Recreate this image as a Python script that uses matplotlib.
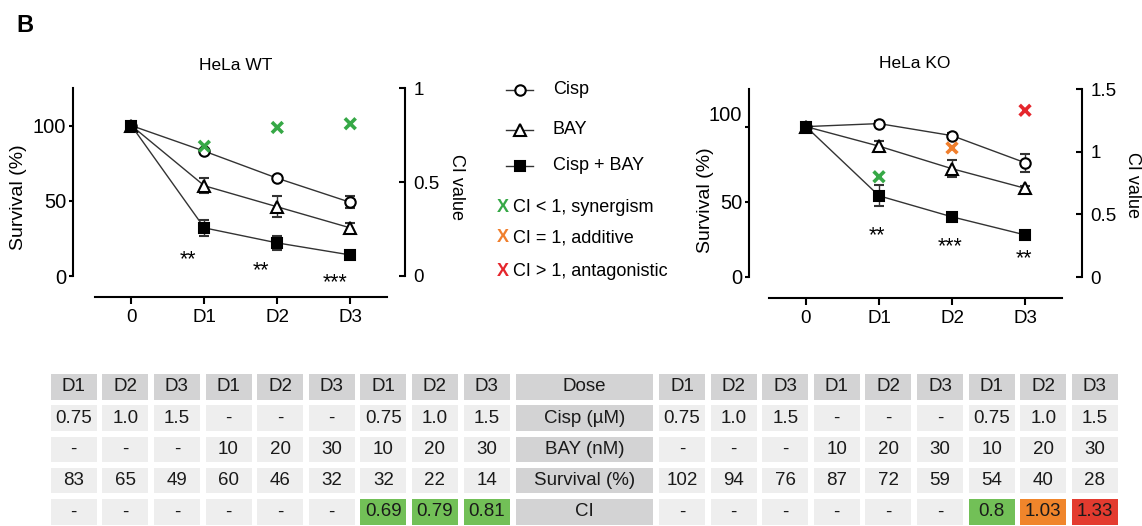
import matplotlib
matplotlib.use('Agg')
import matplotlib.pyplot as plt
from matplotlib.patches import Rectangle
from matplotlib.transforms import ScaledTranslation

plt.rcParams['font.family'] = ['Liberation Sans', 'DejaVu Sans']

doses = ['0', 'D1', 'D2', 'D3']

# HeLa WT survival (%) and error bars
wt_cisp = [100, 83, 65, 49]
wt_cisp_err = [0, 1.5, 1.5, 4]
wt_bay = [100, 60, 46, 32]
wt_bay_err = [0, 5, 7, 3.5]
wt_combo = [100, 32, 22, 14]
wt_combo_err = [0, 5.5, 4.5, 2.5]
wt_ci = [0.69, 0.79, 0.81]
wt_stars = ['**', '**', '***']
wt_star_x = [0.78, 1.78, 2.79]
wt_star_y = [7, 0, -8]

# HeLa KO
ko_cisp = [100, 102, 94, 76]
ko_cisp_err = [0, 1.5, 1.5, 6]
ko_bay = [100, 87, 72, 59]
ko_bay_err = [0, 3.5, 5.5, 1.5]
ko_combo = [100, 54, 40, 28]
ko_combo_err = [0, 7, 1.5, 1.5]
ko_ci = [0.8, 1.03, 1.33]
ko_stars = ['**', '***', '**']
ko_star_x = [0.97, 1.97, 2.98]
ko_star_y = [24, 16.5, 8.5]

# table
dose_names = ['D1', 'D2', 'D3']
cisp_conc = ['0.75', '1.0', '1.5']
bay_conc = ['10', '20', '30']
row_labels = ['Dose', 'Cisp (µM)', 'BAY (nM)', 'Survival (%)', 'CI']

GREEN = '#36a846'
ORANGE = '#f07f2d'
RED = '#e5262c'
CELL_GREEN = '#72c057'
CELL_ORANGE = '#f0852b'
CELL_RED = '#e33b2f'
LINE = '#333333'

W, H = 1142, 526


def ci_color(v, cell=False):
    if v < 0.97:
        return CELL_GREEN if cell else GREEN
    if v > 1.05:
        return CELL_RED if cell else RED
    return CELL_ORANGE if cell else ORANGE


def px_rect(left, top, right, bottom):
    return [left / W, 1 - bottom / H, (right - left) / W, (bottom - top) / H]


def draw_panel(fig, rect, xlim, series, ci, ci_top, ci_ticks, stars, star_x, star_y):
    ax = fig.add_axes(rect)
    x = list(range(len(doses)))
    styles = [('o', 'white', 7.5), ('^', 'white', 8), ('s', 'black', 6.5)]
    for (vals, errs), (mk, mfc, ms) in zip(series, styles):
        ax.errorbar(x, vals, yerr=errs, color=LINE, lw=1, ecolor=LINE,
                    elinewidth=1, capsize=3.5, capthick=1, marker=mk,
                    mfc=mfc, mec='black', ms=ms, mew=1.5, zorder=3)
    for sx, sy, s in zip(star_x, star_y, stars):
        ax.text(sx, sy, s, ha='center', va='baseline', fontsize=15.5)

    ax.set_xlim(*xlim)
    ax.set_ylim(0, 125)
    ax.set_xticks(x)
    ax.set_xticklabels(doses)
    ax.set_yticks([0, 50, 100])
    for side in ['top', 'right']:
        ax.spines[side].set_visible(False)
    ax.spines['left'].set_bounds(0, 125)
    ax.spines['bottom'].set_bounds(-0.5, 3.5)
    ax.spines['bottom'].set_position(('outward', 15))
    for side in ['left', 'bottom']:
        ax.spines[side].set_linewidth(1.5)
    ax.tick_params(axis='y', direction='out', length=3, width=1.5, pad=2, labelsize=14.5)
    ax.tick_params(axis='x', direction='out', length=5, width=1.5, pad=4, labelsize=13.5)
    ax.patch.set_visible(False)

    ax2 = ax.twinx()
    ax2.set_ylim(0, ci_top)
    ax2.set_yticks(ci_ticks)
    ax2.set_yticklabels([f'{t:g}' for t in ci_ticks])
    for side in ['top', 'left', 'bottom']:
        ax2.spines[side].set_visible(False)
    ax2.spines['right'].set_linewidth(1.5)
    ax2.tick_params(axis='y', direction='in', length=4, width=1.5, pad=6, labelsize=13.5)
    ax2.scatter(x[1:], ci, marker='x', s=60, linewidths=2.6,
                c=[ci_color(v) for v in ci], zorder=4, clip_on=False)
    return ax, ax2


fig = plt.figure(figsize=(W / 100, H / 100), dpi=100)

# panel letter
fig.text(25 / W, 1 - 25 / H, 'B', fontsize=17, fontweight='bold', ha='center', va='center')

# WT panel
draw_panel(fig, px_rect(73, 88, 405, 276), (-0.8, 3.75),
           [(wt_cisp, wt_cisp_err), (wt_bay, wt_bay_err), (wt_combo, wt_combo_err)],
           wt_ci, 1, [0, 0.5, 1], wt_stars, wt_star_x, wt_star_y)
fig.text(236 / W, 1 - 65 / H, 'HeLa WT', fontsize=12.5, ha='center', va='center')
fig.text(19 / W, 1 - 197 / H, 'Survival (%)', fontsize=14, rotation=90, ha='center', va='center')
fig.text(457 / W, 1 - 187 / H, 'CI value', fontsize=13, rotation=270, ha='center', va='center')

# KO panel
ko_ax, _ = draw_panel(fig, px_rect(749, 89, 1082, 277), (-0.78, 3.78),
                      [(ko_cisp, ko_cisp_err), (ko_bay, ko_bay_err), (ko_combo, ko_combo_err)],
                      ko_ci, 1.5, [0, 0.5, 1, 1.5], ko_stars, ko_star_x, ko_star_y)
# the "100" label sits a bit high in the original
lbl = ko_ax.get_yticklabels()[2]
lbl.set_transform(lbl.get_transform() + ScaledTranslation(0, 0.13, fig.dpi_scale_trans))
fig.text(915 / W, 1 - 63 / H, 'HeLa KO', fontsize=12.5, ha='center', va='center')
fig.text(705 / W, 1 - 200 / H, 'Survival (%)', fontsize=14, rotation=90, ha='center', va='center')
fig.text(1132 / W, 1 - 185 / H, 'CI value', fontsize=13, rotation=270, ha='center', va='center')

# overlay in pixel coordinates for legend and table
ov = fig.add_axes([0, 0, 1, 1])
ov.set_xlim(0, W)
ov.set_ylim(H, 0)
ov.axis('off')

legend_series = [('Cisp', 'o', 'white', 7.5), ('BAY', '^', 'white', 8), ('Cisp + BAY', 's', 'black', 6.5)]
legend_y = [90, 130, 166]
for (label, mk, mfc, ms), y in zip(legend_series, legend_y):
    ov.plot([506, 533], [y, y], color=LINE, lw=1)
    ov.plot([519.5], [y], marker=mk, mfc=mfc, mec='black', ms=ms, mew=1.5)
    ov.text(553, y, label, fontsize=13, va='center')

ci_legend = [(GREEN, 'CI < 1, synergism'), (ORANGE, 'CI = 1, additive'), (RED, 'CI > 1, antagonistic')]
ci_legend_y = [207, 238, 272]
for (c, label), y in zip(ci_legend, ci_legend_y):
    ov.text(497, y, 'X', color=c, fontsize=13, fontweight='bold', va='center')
    ov.text(513, y, label, fontsize=13, va='center')

# table
HDR = '#d3d3d4'
BODY = '#eeeeee'
row_top, row_pitch, row_h = 374, 31.3, 25.5
col_pitch, col_w = 51.6, 46


def block_rows(survival, ci):
    return [
        dose_names * 3,
        cisp_conc + ['-'] * 3 + cisp_conc,
        ['-'] * 3 + bay_conc + bay_conc,
        [str(v) for v in survival],
        ['-'] * 6 + [f'{v:g}' for v in ci],
    ]


def draw_block(x0, rows, ci):
    for r, row in enumerate(rows):
        top = row_top + r * row_pitch
        for c, txt in enumerate(row):
            left = x0 + c * col_pitch
            fc = HDR if r == 0 else BODY
            if r == 4 and c >= 6:
                fc = ci_color(ci[c - 6], cell=True)
            ov.add_patch(Rectangle((left, top), col_w, row_h, facecolor=fc, edgecolor='none'))
            ov.text(left + col_w / 2, top + row_h / 2, txt, fontsize=13.5,
                    ha='center', va='center', color='#1a1a1a')


wt_surv = wt_cisp[1:] + wt_bay[1:] + wt_combo[1:]
ko_surv = ko_cisp[1:] + ko_bay[1:] + ko_combo[1:]
draw_block(50.7, block_rows(wt_surv, wt_ci), wt_ci)
draw_block(659, block_rows(ko_surv, ko_ci), ko_ci)

for r, label in enumerate(row_labels):
    top = row_top + r * row_pitch
    ov.add_patch(Rectangle((515.7, top), 137.3, row_h, facecolor=HDR, edgecolor='none'))
    ov.text(515.7 + 137.3 / 2, top + row_h / 2, label, fontsize=13.5,
            ha='center', va='center', color='#1a1a1a')

fig.savefig('out.png', dpi=100)
